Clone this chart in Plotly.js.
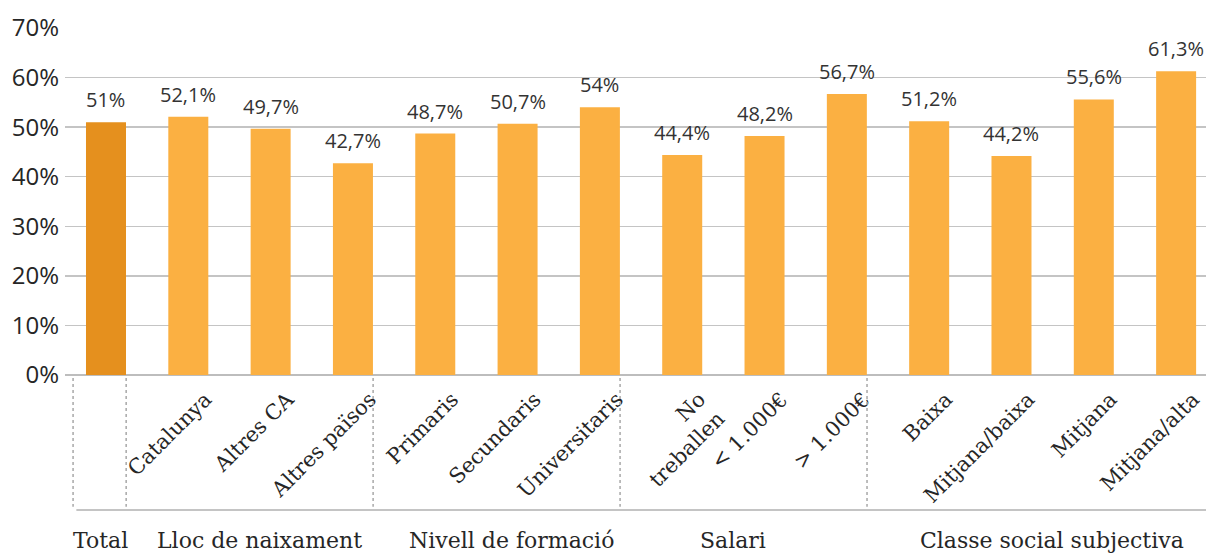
<!DOCTYPE html>
<html>
<head>
<meta charset="utf-8">
<script src="https://cdn.plot.ly/plotly-3.0.1.min.js"></script>
<style>html,body{margin:0;padding:0;background:#fff;}#chart{width:1206px;height:553px;}</style>
</head>
<body>
<div id="chart"></div>
<script>
const categories = ['Total','Catalunya','Altres CA','Altres països','Primaris','Secundaris','Universitaris','No<br>treballen','< 1.000€','> 1.000€','Baixa','Mitjana/baixa','Mitjana','Mitjana/alta'];
const values = [51, 52.1, 49.7, 42.7, 48.7, 50.7, 54, 44.4, 48.2, 56.7, 51.2, 44.2, 55.6, 61.3];
const groupNames = ['Total','Lloc de naixament','Nivell de formació','Salari','Classe social subjectiva'];
const groupStarts = [0, 1, 4, 7, 10];
const yTickVals = [0,10,20,30,40,50,60,70];
const yTickText = ['0%','10%','20%','30%','40%','50%','60%','70%'];

const totalColor = '#E5901E';
const barColor = '#FBB042';
const colors = categories.map((c, i) => i === 0 ? totalColor : barColor);
const labels = values.map(v => String(v).replace('.', ',') + '%');
// the "Total" bar carries no rotated label, only its group label
const xTickText = categories.map((c, i) => i === 0 ? '' : c);

const trace = {
  type: 'bar',
  x: categories,
  y: values,
  marker: {color: colors},
  width: 0.486,
  hoverinfo: 'skip'
};

const annotations = values.map((v, i) => ({
  x: categories[i], y: v, xref: 'x', yref: 'y',
  text: labels[i], showarrow: false, yanchor: 'bottom', yshift: 7,
  font: {family: 'Open Sans, sans-serif', size: 20, color: '#333333'}
}));

const groupLabelX = [-0.07, 1.87, 4.93, 7.62, 11.49];
groupNames.forEach((g, i) => {
  annotations.push({
    x: groupLabelX[i], y: -0.478, xref: 'x', yref: 'paper',
    text: g, showarrow: false, xanchor: 'center', yanchor: 'middle',
    font: {family: 'DejaVu Serif, serif', size: 22, color: '#262626'}
  });
});

const sepStyle = {color: '#A8A8A8', width: 1.5, dash: '3px,3px'};
const shapes = [];
const sepX = [-0.4].concat(groupStarts.slice(1).map(s => s - 1 + 0.245));
sepX.forEach(x => {
  shapes.push({type: 'line', xref: 'x', yref: 'paper', x0: x, x1: x, y0: -0.009, y1: -0.38, line: sepStyle});
});
shapes.push({type: 'line', xref: 'x', yref: 'paper', x0: -0.36, x1: 13.363, y0: -0.389, y1: -0.389, line: {color: '#B0B0B0', width: 1.5}});

const layout = {
  width: 1206, height: 553,
  margin: {l: 65, r: 0, t: 28, b: 178, pad: 0},
  paper_bgcolor: '#ffffff', plot_bgcolor: '#ffffff',
  showlegend: false,
  bargap: 0.5,
  xaxis: {
    type: 'category',
    range: [-0.498, 13.363],
    tickmode: 'array',
    tickvals: categories,
    ticktext: xTickText,
    tickangle: -45,
    ticklabelshift: 17,
    ticklabelstandoff: 7,
    showgrid: false,
    zeroline: false,
    showline: false,
    ticks: '',
    tickfont: {family: 'DejaVu Serif, serif', size: 21, color: '#262626'},
    fixedrange: true
  },
  yaxis: {
    range: [0, 70],
    tickvals: yTickVals,
    ticktext: yTickText,
    showgrid: true,
    gridcolor: '#C4C4C4',
    gridwidth: 1.5,
    zeroline: true,
    zerolinecolor: '#BDBDBD',
    zerolinewidth: 1.5,
    showline: false,
    ticks: '',
    ticklabelstandoff: 5,
    tickfont: {family: 'Open Sans, sans-serif', size: 24, color: '#262626'},
    fixedrange: true
  },
  annotations: annotations,
  shapes: shapes
};

Plotly.newPlot('chart', [trace], layout, {displayModeBar: false, staticPlot: true});
</script>
</body>
</html>
